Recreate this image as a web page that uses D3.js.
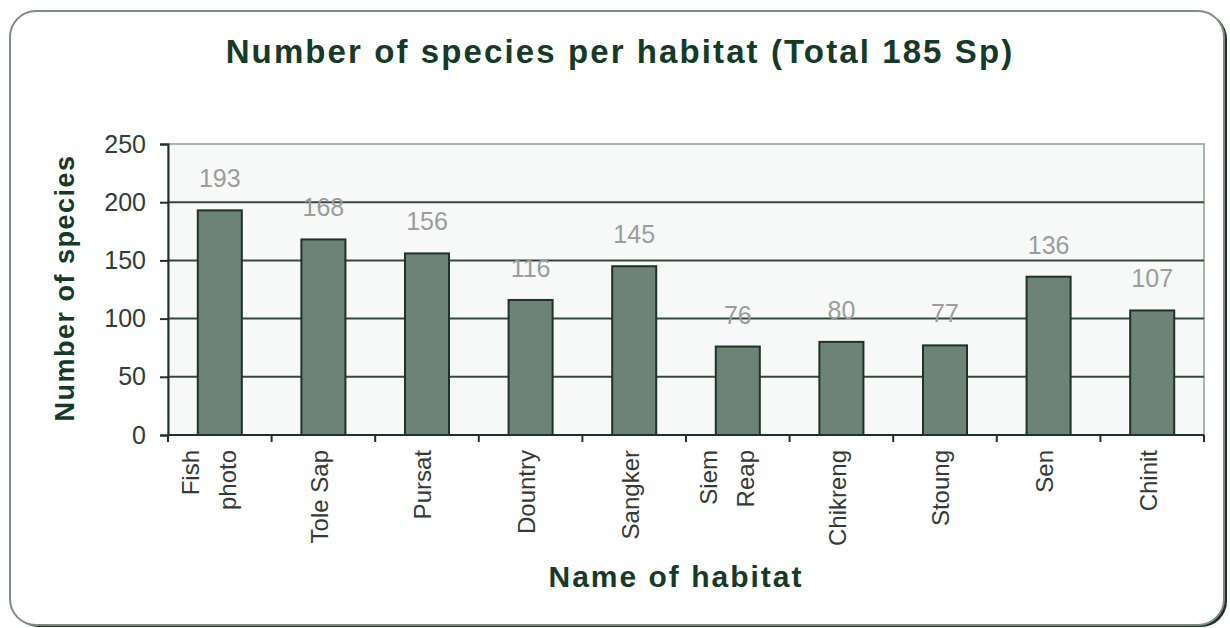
<!DOCTYPE html>
<html>
<head>
<meta charset="utf-8">
<script src="https://cdn.jsdelivr.net/npm/d3@7"></script>
<style>
  body { margin: 0; background: #fff; }
  svg { display: block; font-family: "Liberation Sans", Arial, sans-serif; }
</style>
</head>
<body>
<script>
// habitats (a "\n" marks a wrapped label) and species counts
const habitats = ["Fish\nphoto", "Tole Sap", "Pursat", "Dountry", "Sangker", "Siem\nReap", "Chikreng", "Stoung", "Sen", "Chinit"];
const species = [193, 168, 156, 116, 145, 76, 80, 77, 136, 107];
const yTicks = [0, 50, 100, 150, 200, 250];

const width = 1230, height = 628;
const margin = { top: 144, right: 26, bottom: 193, left: 168 };
const plotW = width - margin.left - margin.right;
const plotH = height - margin.top - margin.bottom;

const svg = d3.select("body").append("svg")
    .attr("width", width)
    .attr("height", height);

// frame with a small shadow at the lower right
svg.append("rect")
    .attr("x", 13).attr("y", 13)
    .attr("width", 1214).attr("height", 614)
    .attr("rx", 26)
    .attr("fill", "#1e3326");
svg.append("rect")
    .attr("x", 10).attr("y", 11)
    .attr("width", 1214).attr("height", 614)
    .attr("rx", 26)
    .attr("fill", "#fff")
    .attr("stroke", "#7d8d83")
    .attr("stroke-width", 2);

svg.append("text")
    .attr("x", 620).attr("y", 63)
    .attr("text-anchor", "middle")
    .style("font-size", "33px")
    .style("font-weight", "bold")
    .style("letter-spacing", "2.1px")
    .attr("fill", "#163a27")
    .text("Number of species per habitat (Total 185 Sp)");

const x = d3.scaleBand()
    .domain(habitats)
    .range([0, plotW])
    .paddingInner(0.575)
    .paddingOuter(0.2875);

const y = d3.scaleLinear()
    .domain([0, 250])
    .range([plotH, 0]);

const g = svg.append("g")
    .attr("transform", `translate(${margin.left},${margin.top})`);

g.append("rect")
    .attr("width", plotW).attr("height", plotH)
    .attr("fill", "#f7f9f8")
    .attr("stroke", "#a8b5ad")
    .attr("stroke-width", 2);

g.selectAll(".grid")
    .data(yTicks.filter(d => d > 0 && d < 250))
    .enter()
    .append("line")
    .attr("x1", 0).attr("x2", plotW)
    .attr("y1", d => y(d)).attr("y2", d => y(d))
    .attr("stroke", "#33483c")
    .attr("stroke-width", 2);

g.selectAll(".bar")
    .data(species)
    .enter()
    .append("rect")
    .attr("x", (d, i) => x(habitats[i]))
    .attr("y", d => y(d))
    .attr("width", x.bandwidth())
    .attr("height", d => plotH - y(d))
    .attr("fill", "#6e8377")
    .attr("stroke", "#1e3326")
    .attr("stroke-width", 2);

g.selectAll(".value")
    .data(species)
    .enter()
    .append("text")
    .attr("x", (d, i) => x(habitats[i]) + x.bandwidth() / 2)
    .attr("y", d => y(d) - 23)
    .attr("text-anchor", "middle")
    .style("font-size", "25px")
    .attr("fill", "#9a9d9b")
    .text(d => d);

// y axis
const yAxis = g.append("g")
    .call(d3.axisLeft(y).tickValues(yTicks).tickSize(8).tickPadding(14));
yAxis.select(".domain").attr("stroke", "#1e3326").attr("stroke-width", 2);
yAxis.selectAll(".tick line").attr("stroke", "#1e3326").attr("stroke-width", 2);
yAxis.selectAll(".tick text")
    .style("font-size", "25px")
    .style("font-family", "'Liberation Sans', Arial, sans-serif")
    .attr("fill", "#2f3d35");

// x axis line and ticks at category boundaries
g.append("line")
    .attr("x1", 0).attr("x2", plotW)
    .attr("y1", plotH).attr("y2", plotH)
    .attr("stroke", "#1e3326")
    .attr("stroke-width", 2);

const step = x.step();
g.selectAll(".xtick")
    .data(d3.range(habitats.length + 1))
    .enter()
    .append("line")
    .attr("x1", i => i * step).attr("x2", i => i * step)
    .attr("y1", plotH).attr("y2", plotH + 7)
    .attr("stroke", "#1e3326")
    .attr("stroke-width", 2);

// rotated category labels
habitats.forEach((h, i) => {
    const lines = h.split("\n");
    const cx = x(h) + x.bandwidth() / 2;
    const offs = lines.length > 1 ? [-29, 8] : [-4];
    lines.forEach((ln, k) => {
        const lx = cx + offs[k];
        g.append("text")
            .attr("transform", `translate(${lx},${plotH + 15}) rotate(-90)`)
            .attr("text-anchor", "end")
            .attr("dy", "0.35em")
            .style("font-size", "24px")
            .attr("fill", "#333a36")
            .text(ln);
    });
});

// axis titles
svg.append("text")
    .attr("x", 676).attr("y", 587)
    .attr("text-anchor", "middle")
    .style("font-size", "30px")
    .style("font-weight", "bold")
    .style("letter-spacing", "2px")
    .attr("fill", "#163a27")
    .text("Name of habitat");

svg.append("text")
    .attr("transform", "translate(74,288) rotate(-90)")
    .attr("text-anchor", "middle")
    .style("font-size", "27px")
    .style("font-weight", "bold")
    .style("letter-spacing", "1.5px")
    .attr("fill", "#163a27")
    .text("Number of species");
</script>
</body>
</html>
